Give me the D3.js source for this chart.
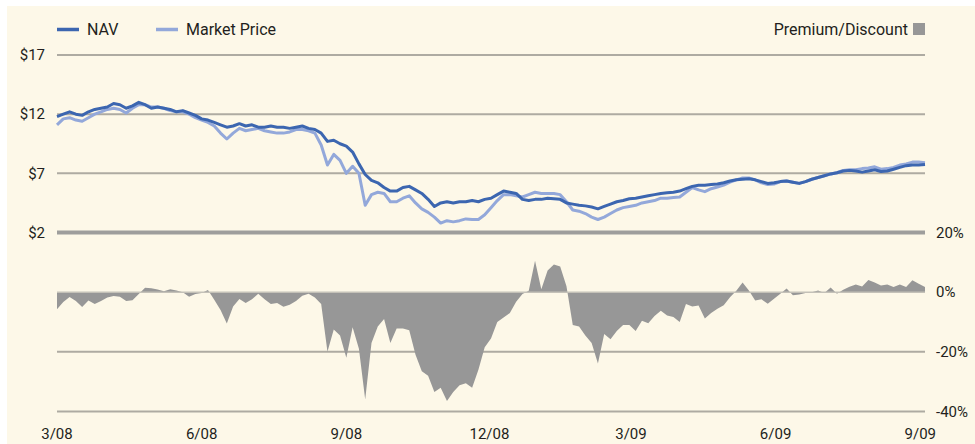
<!DOCTYPE html>
<html>
<head>
<meta charset="utf-8">
<script src="https://cdn.jsdelivr.net/npm/d3@7"></script>
<style>
  html, body { margin: 0; padding: 0; background: #fff; }
  svg { display: block; font-family: Roboto, "Open Sans", sans-serif; }
</style>
</head>
<body>
<svg id="chart" width="975" height="444"></svg>
<script>
// one sample every 4 days, 2008-03-01 .. 2009-09-04
const startDate = new Date(2008, 2, 1);
const endDate = new Date(2009, 8, 4);

const nav = [
  11.8, 12.0, 12.2, 12.0, 11.9, 12.2, 12.4, 12.5, 12.6, 12.9,
  12.8, 12.5, 12.7, 13.0, 12.8, 12.5, 12.6, 12.5, 12.4, 12.2,
  12.3, 12.1, 11.9, 11.6, 11.5, 11.3, 11.1, 10.9, 11.0, 11.2,
  11.0, 11.1, 10.9, 10.9, 11.0, 10.9, 10.9, 10.8, 10.9, 11.0,
  10.8, 10.7, 10.4, 9.7, 9.8, 9.5, 9.3, 8.8, 7.8, 6.9,
  6.4, 6.2, 5.8, 5.5, 5.5, 5.8, 5.9, 5.6, 5.3, 4.8,
  4.2, 4.5, 4.6, 4.5, 4.6, 4.6, 4.7, 4.6, 4.8, 4.9,
  5.2, 5.5, 5.4, 5.3, 4.8, 4.7, 4.8, 4.8, 4.9, 4.85,
  4.8, 4.5, 4.4, 4.3, 4.25, 4.15, 4.0, 4.2, 4.4, 4.6,
  4.7, 4.85, 4.9, 5.0, 5.1, 5.2, 5.3, 5.35, 5.4, 5.5,
  5.7, 5.9, 6.0, 6.0, 6.05, 6.1, 6.2, 6.35, 6.45, 6.5,
  6.55, 6.45, 6.3, 6.15, 6.2, 6.3, 6.35, 6.25, 6.15, 6.3,
  6.5, 6.65, 6.8, 6.95, 7.05, 7.2, 7.25, 7.2, 7.1, 7.2,
  7.3, 7.15, 7.2, 7.35, 7.5, 7.65, 7.7, 7.7, 7.75
];

const marketPrice = [
  11.1, 11.6, 11.7, 11.5, 11.4, 11.7, 12.0, 12.2, 12.4, 12.5,
  12.4, 12.1, 12.5, 12.8, 12.8, 12.6, 12.6, 12.5, 12.3, 12.2,
  12.2, 12.0, 11.7, 11.5, 11.3, 11.0, 10.4, 9.9, 10.4, 10.8,
  10.6, 10.7, 10.8, 10.6, 10.5, 10.4, 10.4, 10.5, 10.7, 10.7,
  10.6, 10.4, 9.4, 7.7, 8.6, 8.1, 7.0, 7.6, 7.0, 4.3,
  5.2, 5.4, 5.3, 4.6, 4.6, 4.9, 5.1, 4.5, 4.0, 3.7,
  3.3, 2.8, 3.0, 2.9, 3.0, 3.15, 3.1, 3.1, 3.5, 4.1,
  4.7, 5.2, 5.2, 5.1, 5.0, 5.2, 5.4, 5.3, 5.3, 5.3,
  5.2, 4.6, 3.9, 3.8, 3.6, 3.3, 3.1, 3.3, 3.6, 3.9,
  4.1, 4.2, 4.3, 4.5, 4.6, 4.7, 4.9, 4.9, 4.95, 5.0,
  5.4, 5.8, 5.6, 5.45, 5.7, 5.85, 6.0, 6.25, 6.45, 6.6,
  6.6, 6.45, 6.2, 6.05, 6.1, 6.3, 6.35, 6.25, 6.15, 6.3,
  6.5, 6.65, 6.8, 6.95, 7.05, 7.25, 7.3, 7.3, 7.4, 7.45,
  7.55, 7.35, 7.4, 7.5, 7.7, 7.8, 7.95, 7.95, 7.9
];

// premium (+) / discount (-) of market price to NAV, in %
const premium = [
  -5.7, -3.3, -1.6, -3.0, -5.0, -2.8, -4.0, -3.0, -1.8, -1.3,
  -1.5, -3.0, -2.7, -0.6, 1.5, 1.3, 0.9, 0.3, 1.0, 0.6,
  0, -1.5, -0.6, -0.3, 0.7, -2.5, -6.0, -10.5, -4.8, -2.3,
  -3.6, -2.4, -0.5, -2.4, -4.0, -3.6, -4.9, -4.2, -3.0, -1.2,
  -0.5, -1.8, -4.0, -20, -12.5, -14.5, -22, -11.8, -19, -36,
  -17, -11.5, -9, -17, -12.2, -12.2, -12.8, -21, -26.5, -28,
  -33.5, -32, -36.5, -33.5, -31.2, -30.5, -32, -26, -18.5, -15.5,
  -10, -8.5, -7, -3.2, -0.6, 0.5, 10.5, 1.0, 7.3, 9.3,
  8.6, 2, -11, -11.5, -14.5, -17, -23.9, -14, -15.8, -13,
  -11, -11, -13, -9.6, -10.4, -8.0, -6.2, -7.8, -8.3, -10,
  -4, -4.8, -4.5, -8.8, -7, -5.6, -4.4, -1.7, 0.5, 3.2,
  0.6, -2.8, -2.4, -3.9, -2.2, -0.5, 1.2, -1.0, -0.8, -0.3,
  0, 0.6, -0.3, 1.6, -0.5, 0.8, 1.8, 2.6, 1.9, 4.1,
  3.2, 2.2, 2.6, 1.7, 2.6, 1.7, 4.0, 2.8, 1.7
];

const priceTicks = [17, 12, 7, 2];
const priceLabels = ["$17", "$12", "$7", "$2"];
const pctTicks = [20, 0, -20, -40];
const pctLabels = ["20%", "0%", "-20%", "-40%"];
const monthTicks = [
  new Date(2008, 2, 1), new Date(2008, 5, 1), new Date(2008, 8, 1),
  new Date(2008, 11, 1), new Date(2009, 2, 1), new Date(2009, 5, 1),
  new Date(2009, 8, 1)
];
const monthLabels = ["3/08", "6/08", "9/08", "12/08", "3/09", "6/09", "9/09"];

const dates = nav.map((d, i) => d3.timeDay.offset(startDate, i * 4));

const width = 975, height = 444;
const plot = { left: 57, right: 925 };

const svg = d3.select("#chart");

svg.append("rect")
  .attr("x", 7).attr("y", 6)
  .attr("width", width - 7).attr("height", height - 6)
  .attr("fill", "#fdf8e8");

const x = d3.scaleTime()
  .domain([startDate, endDate])
  .range([plot.left, plot.right]);

const yPrice = d3.scaleLinear()
  .domain([2, 17])
  .range([232.5, 55]);

const yPct = d3.scaleLinear()
  .domain([-40, 20])
  .range([411.5, 232.5]);

const textColor = "#231f20";

// price grid
svg.append("g")
  .selectAll("line")
  .data(priceTicks.filter(d => d !== 2))
  .join("line")
  .attr("x1", plot.left).attr("x2", plot.right)
  .attr("y1", d => yPrice(d)).attr("y2", d => yPrice(d))
  .attr("stroke", "#aeaba2")
  .attr("stroke-width", 2);

// percent grid (lower ones)
svg.append("g")
  .selectAll("line")
  .data([-20, -40])
  .join("line")
  .attr("x1", plot.left).attr("x2", plot.right)
  .attr("y1", d => yPct(d)).attr("y2", d => yPct(d))
  .attr("stroke", "#aeaba2")
  .attr("stroke-width", 2);

// premium / discount area
const area = d3.area()
  .x((d, i) => x(dates[i]))
  .y0(yPct(0))
  .y1(d => yPct(d));

svg.append("path")
  .datum(premium)
  .attr("d", area)
  .attr("fill", "#979797");

// zero line
svg.append("line")
  .attr("x1", plot.left).attr("x2", plot.right)
  .attr("y1", yPct(0)).attr("y2", yPct(0))
  .attr("stroke", "#c4c1b8")
  .attr("stroke-width", 1.5);

// divider ($2 / 20%)
svg.append("line")
  .attr("x1", plot.left).attr("x2", plot.right)
  .attr("y1", yPrice(2)).attr("y2", yPrice(2))
  .attr("stroke", "#9e9e9c")
  .attr("stroke-width", 4);

// price lines
const line = d3.line()
  .x((d, i) => x(dates[i]))
  .y(d => yPrice(d));

svg.append("path")
  .datum(marketPrice)
  .attr("d", line)
  .attr("fill", "none")
  .attr("stroke", "#93a8da")
  .attr("stroke-width", 3)
  .attr("stroke-linejoin", "round");

svg.append("path")
  .datum(nav)
  .attr("d", line)
  .attr("fill", "none")
  .attr("stroke", "#3c66b0")
  .attr("stroke-width", 3)
  .attr("stroke-linejoin", "round");

// left axis labels
svg.append("g")
  .selectAll("text")
  .data(priceTicks)
  .join("text")
  .attr("x", 45)
  .attr("y", d => yPrice(d))
  .attr("dy", "0.35em")
  .attr("text-anchor", "end")
  .attr("font-size", 15)
  .attr("fill", textColor)
  .text((d, i) => priceLabels[i]);

// right axis labels
svg.append("g")
  .selectAll("text")
  .data(pctTicks)
  .join("text")
  .attr("x", 936)
  .attr("y", d => yPct(d))
  .attr("dy", "0.35em")
  .attr("font-size", 15)
  .attr("fill", textColor)
  .text((d, i) => pctLabels[i]);

// x axis labels
svg.append("g")
  .selectAll("text")
  .data(monthTicks)
  .join("text")
  .attr("x", d => x(d))
  .attr("y", 439)
  .attr("text-anchor", "middle")
  .attr("font-size", 15)
  .attr("fill", textColor)
  .text((d, i) => monthLabels[i]);

// legend
const legend = svg.append("g").attr("font-size", 16).attr("fill", textColor);

legend.append("line")
  .attr("x1", 57).attr("x2", 79).attr("y1", 29.5).attr("y2", 29.5)
  .attr("stroke", "#3c66b0").attr("stroke-width", 3.5);
legend.append("text").attr("x", 87).attr("y", 35).text("NAV");

legend.append("line")
  .attr("x1", 156).attr("x2", 178).attr("y1", 29.5).attr("y2", 29.5)
  .attr("stroke", "#93a8da").attr("stroke-width", 3.5);
legend.append("text").attr("x", 186).attr("y", 35).text("Market Price");

legend.append("text")
  .attr("x", 908).attr("y", 35)
  .attr("text-anchor", "end")
  .text("Premium/Discount");
legend.append("rect")
  .attr("x", 913).attr("y", 23).attr("width", 12).attr("height", 12)
  .attr("fill", "#979797");
</script>
</body>
</html>
